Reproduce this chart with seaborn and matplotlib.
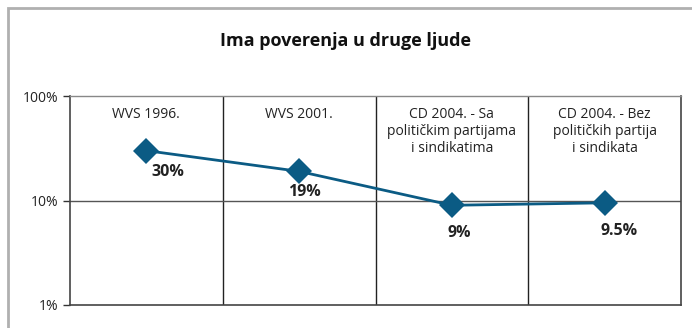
import matplotlib
matplotlib.use("Agg")
import matplotlib.pyplot as plt
import seaborn as sns
import pandas as pd
from matplotlib.patches import Rectangle
from matplotlib.ticker import FixedLocator, NullLocator

sns.set_theme(style="white")
plt.rcParams["font.family"] = ["Open Sans", "DejaVu Sans"]

# Survey waves and share of respondents who trust other people (%)
categories = [
    "WVS 1996.",
    "WVS 2001.",
    "CD 2004. - Sa\npolitičkim partijama\ni sindikatima",
    "CD 2004. - Bez\npolitičkih partija\ni sindikata",
]
values = [30, 19, 9, 9.5]
value_labels = ["30%", "19%", "9%", "9.5%"]
y_ticks = [1, 10, 100]
y_tick_labels = ["1%", "10%", "100%"]

df = pd.DataFrame({"pos": range(len(categories)), "value": values})

fig = plt.figure(figsize=(6.92, 3.28), dpi=100)
ax = fig.add_axes([70 / 692, 1 - 305 / 328, (681 - 70) / 692, (305 - 96) / 328])

line_color = "#0b5b84"
sns.lineplot(data=df, x="pos", y="value", ax=ax, color=line_color,
             linewidth=2, marker="D", markersize=13, markeredgewidth=0)

ax.set_yscale("log")
ax.set_ylim(1, 100)
ax.set_xlim(-0.5, len(categories) - 0.5)
ax.yaxis.set_major_locator(FixedLocator(y_ticks))
ax.yaxis.set_minor_locator(NullLocator())
ax.set_yticklabels(y_tick_labels, fontsize=10)
ax.set_xticks([])
ax.set_xlabel("")
ax.set_ylabel("")
ax.tick_params(axis="y", which="major", left=True, length=5, width=1,
               color="#333333", pad=3, labelcolor="#222222")

# separators between survey waves and reference line at 10%
for i in range(1, len(categories)):
    ax.axvline(i - 0.5, color="#222222", linewidth=1, zorder=1)
ax.axhline(10, color="#555555", linewidth=1, zorder=1)

for side in ["left", "bottom", "right"]:
    ax.spines[side].set_color("#444444")
    ax.spines[side].set_linewidth(1.2)
ax.spines["top"].set_color("#888888")
ax.spines["top"].set_linewidth(1)

# category captions inside the top of each column
for i, cat in enumerate(categories):
    ax.text(i, 0.948, cat, transform=ax.get_xaxis_transform(), ha="center",
            va="top", fontsize=10, color="#222222", linespacing=1.2)

# value labels below each marker (offsets in pixels)
offsets = [(21, -13), (5, -13), (7, -20), (14, -20)]
for i, (v, lab) in enumerate(zip(values, value_labels)):
    dx, dy = offsets[i]
    ax.annotate(lab, (i, v), xytext=(dx, dy), textcoords="offset pixels",
                ha="center", va="top", fontsize=11.5, fontweight="bold",
                color="#222222")

fig.text(0.5, 1 - 41 / 328, "Ima poverenja u druge ljude", ha="center",
         va="center", fontsize=13, fontweight="bold", color="#111111")

# outer frame around the figure
frame = Rectangle((7.5 / 692, -0.1), 1.2, 1 - 8.5 / 328 + 0.1,
                  transform=fig.transFigure, fill=False,
                  edgecolor="#b0b0b0", linewidth=2, zorder=0)
fig.patches.append(frame)

fig.savefig("out.png", dpi=100)
